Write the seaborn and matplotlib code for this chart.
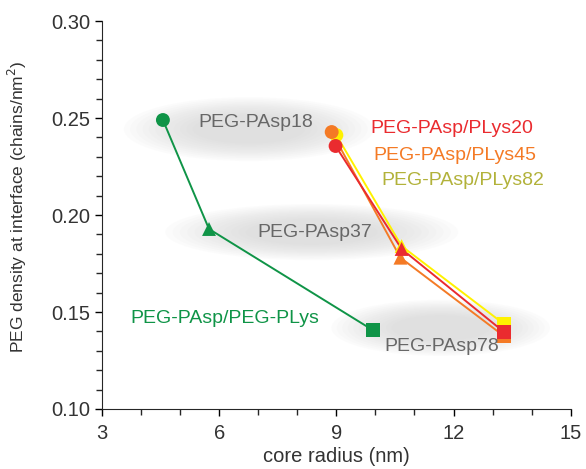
import pandas as pd
import matplotlib.pyplot as plt
import seaborn as sns
from matplotlib.patches import Ellipse
from matplotlib.ticker import MultipleLocator

# PAsp block length for each point (marker shape)
blocks = ['PAsp18', 'PAsp37', 'PAsp78']

# core radius (nm) and PEG density (chains/nm2) per series
green_x = [4.56, 5.74, 9.93]
green_y = [0.2490, 0.1928, 0.1407]
plys82_x = [9.00, 10.67, 13.29]
plys82_y = [0.2412, 0.1840, 0.1438]
plys45_x = [8.88, 10.64, 13.29]
plys45_y = [0.2428, 0.1780, 0.1376]
plys20_x = [8.98, 10.67, 13.29]
plys20_y = [0.2356, 0.1825, 0.1397]

series = [
    ('PEG-PAsp/PEG-PLys', green_x, green_y, '#0f9447'),
    ('PEG-PAsp/PLys82', plys82_x, plys82_y, '#fff200'),
    ('PEG-PAsp/PLys45', plys45_x, plys45_y, '#f47a25'),
    ('PEG-PAsp/PLys20', plys20_x, plys20_y, '#ea2b2f'),
]

sns.set_style('ticks')
plt.rcParams['font.family'] = ['Liberation Sans', 'DejaVu Sans']

fig = plt.figure(figsize=(5.86, 4.69), dpi=100)
ax = fig.add_axes([0.174, 0.128, 0.800, 0.827])

# soft grey halos behind the block labels
halos = [(6.76, 0.2443, 6.4, 0.033), (8.37, 0.1912, 7.5, 0.029), (11.67, 0.1418, 5.6, 0.029)]
for cx, cy, w, h in halos:
    for k in range(12):
        f = 1 - 0.6 * k / 12
        ax.add_patch(Ellipse((cx, cy), w * f, h * f, color='#c8c8c8', alpha=0.055, lw=0, zorder=0))

for name, xs, ys, col in series:
    d = pd.DataFrame({'x': xs, 'y': ys, 'block': blocks})
    sns.lineplot(data=d, x='x', y='y', color=col, lw=1.4, sort=False, ax=ax, zorder=2)
    sns.scatterplot(data=d, x='x', y='y', style='block', markers={'PAsp18': 'o', 'PAsp37': '^', 'PAsp78': 's'},
                    color=col, s=100, edgecolor='none', legend=False, ax=ax, zorder=3)

gray = '#676767'
fs = 14
ax.text(6.94, 0.2479, 'PEG-PAsp18', color=gray, fontsize=fs, ha='center', va='center')
ax.text(8.45, 0.1912, 'PEG-PAsp37', color=gray, fontsize=fs, ha='center', va='center')
ax.text(11.70, 0.1320, 'PEG-PAsp78', color=gray, fontsize=fs, ha='center', va='center')
ax.text(6.15, 0.1469, 'PEG-PAsp/PEG-PLys', color='#0f9447', fontsize=fs, ha='center', va='center')
ax.text(11.95, 0.2448, 'PEG-PAsp/PLys20', color='#ea2b2f', fontsize=fs, ha='center', va='center')
ax.text(12.03, 0.2309, 'PEG-PAsp/PLys45', color='#f47a25', fontsize=fs, ha='center', va='center')
ax.text(12.23, 0.2180, 'PEG-PAsp/PLys82', color='#b2b23a', fontsize=fs, ha='center', va='center')

ax.set_xlim(3, 15)
ax.set_ylim(0.10, 0.30)
ax.xaxis.set_major_locator(MultipleLocator(3))
ax.xaxis.set_minor_locator(MultipleLocator(1))
ax.yaxis.set_major_locator(MultipleLocator(0.05))
ax.yaxis.set_minor_locator(MultipleLocator(0.01))
ax.tick_params(which='major', length=5, width=1, labelsize=14.5, colors='black', labelcolor='#333333')
ax.tick_params(which='minor', length=4, width=1)
ax.tick_params(axis='x', which='major', pad=6)
ax.set_xlabel('core radius (nm)', fontsize=14.5, color='#333333', labelpad=3)
ax.set_ylabel('PEG density at interface (chains/nm$^2$)', fontsize=12.5, color='#333333')
ax.yaxis.set_label_coords(-0.155, 0.52)
sns.despine(ax=ax)

fig.savefig('out.png', dpi=100)
